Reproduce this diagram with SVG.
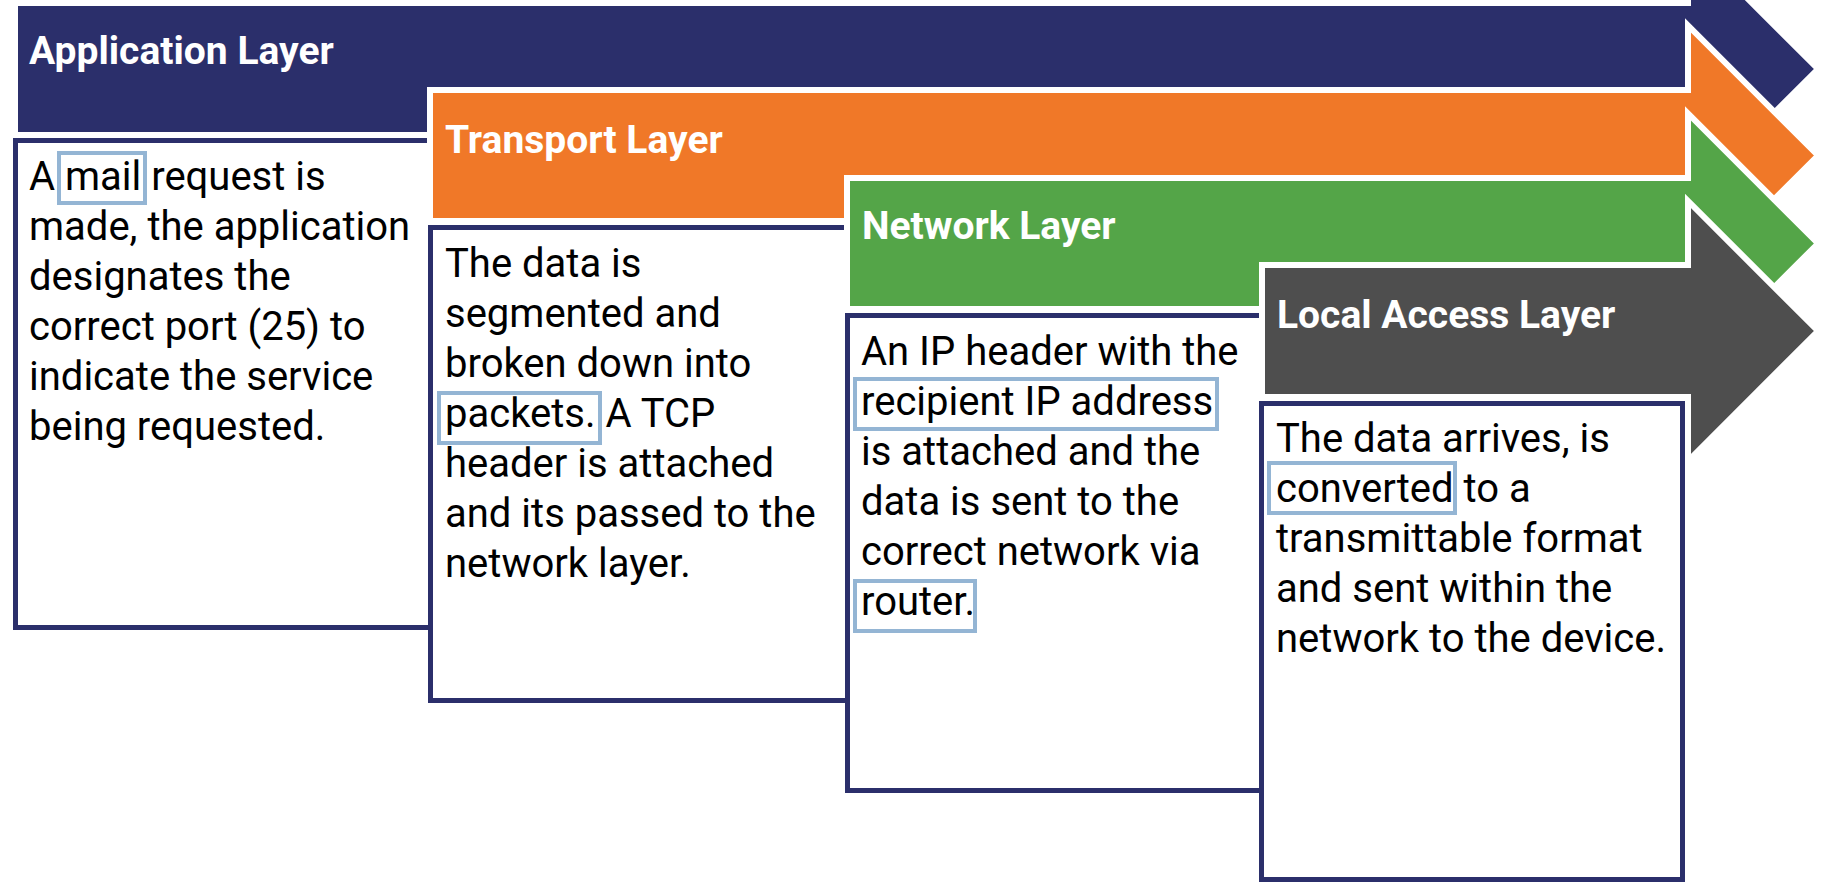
<svg xmlns="http://www.w3.org/2000/svg" width="1822" height="884" viewBox="0 0 1822 884">
  <style>
    .bar { stroke: #ffffff; stroke-width: 6; stroke-linejoin: miter; }
    .navy { fill: #2b2f6b; }
    .orange { fill: #f07828; }
    .green { fill: #54a548; }
    .gray { fill: #4e4e4e; }
    .title { font-family: Roboto, "Liberation Sans", sans-serif; font-weight: bold; font-size: 39px; fill: #ffffff; }
    .frame { fill: none; stroke: #2b2f6b; stroke-width: 5; }
    .body { font-family: Roboto, "Liberation Sans", sans-serif; font-size: 40px; fill: #000000; }
    .mark { fill: none; stroke: #94b5d4; stroke-width: 4; }
  </style>
  <rect width="1822" height="884" fill="#ffffff"/>

  <!-- Layer 1: application -->
  <g id="application-layer">
    <path class="bar navy" d="M15,3 H1688 V-61 L1818,69 L1688,199 V135 H15 Z"/>
    <text class="title" x="29" y="64">Application Layer</text>
  </g>
  <g id="application-box">
    <path class="frame" d="M431,140.5 H15.5 V627.5 H431"/>
    <rect class="mark" x="59" y="153" width="86" height="50"/>
    <text class="body" x="29" y="190">A mail request is<tspan x="29" dy="50">made, the application</tspan><tspan x="29" dy="50">designates the</tspan><tspan x="29" dy="50">correct port (25) to</tspan><tspan x="29" dy="50">indicate the service</tspan><tspan x="29" dy="50">being requested.</tspan></text>
  </g>

  <!-- Layer 2: transport -->
  <g id="transport-layer">
    <path class="bar orange" d="M430,90 H1688 V25.5 L1818,155.5 L1688,285.5 V221 H430 Z"/>
    <text class="title" x="445" y="153">Transport Layer</text>
  </g>
  <g id="transport-box">
    <path class="frame" d="M848,227.5 H430.5 V700.5 H848"/>
    <rect class="mark" x="439" y="393" width="161" height="50"/>
    <text class="body" x="445" y="277">The data is<tspan x="445" dy="50">segmented and</tspan><tspan x="445" dy="50">broken down into</tspan><tspan x="445" dy="50">packets. A TCP</tspan><tspan x="445" dy="50">header is attached</tspan><tspan x="445" dy="50">and its passed to the</tspan><tspan x="445" dy="50">network layer.</tspan></text>
  </g>

  <!-- Layer 3: network -->
  <g id="network-layer">
    <path class="bar green" d="M847,178 H1688 V113.5 L1818,243.5 L1688,373.5 V309 H847 Z"/>
    <text class="title" x="862" y="239">Network Layer</text>
  </g>
  <g id="network-box">
    <path class="frame" d="M1262,315.5 H847.5 V790.5 H1262"/>
    <rect class="mark" x="855" y="379" width="362" height="50"/>
    <rect class="mark" x="855" y="581" width="120" height="50"/>
    <text class="body" x="861" y="365">An IP header with the<tspan x="861" dy="50">recipient IP address</tspan><tspan x="861" dy="50">is attached and the</tspan><tspan x="861" dy="50">data is sent to the</tspan><tspan x="861" dy="50">correct network via</tspan><tspan x="861" dy="50">router.</tspan></text>
  </g>

  <!-- Layer 4: local access -->
  <g id="local-access-layer">
    <path class="bar gray" d="M1262,265 H1688 V201 L1818,331 L1688,461 V397 H1262 Z"/>
    <text class="title" x="1277" y="328">Local Access Layer</text>
  </g>
  <g id="local-access-box">
    <rect class="frame" x="1261.5" y="403.5" width="421" height="476" fill="#ffffff" style="fill:#ffffff"/>
    <rect class="mark" x="1269" y="463" width="186" height="50"/>
    <text class="body" x="1276" y="452">The data arrives, is<tspan x="1276" dy="50">converted to a</tspan><tspan x="1276" dy="50">transmittable format</tspan><tspan x="1276" dy="50">and sent within the</tspan><tspan x="1276" dy="50">network to the device.</tspan></text>
  </g>

  <!-- no connectors between layers -->
  <g id="connectors"/>
</svg>
